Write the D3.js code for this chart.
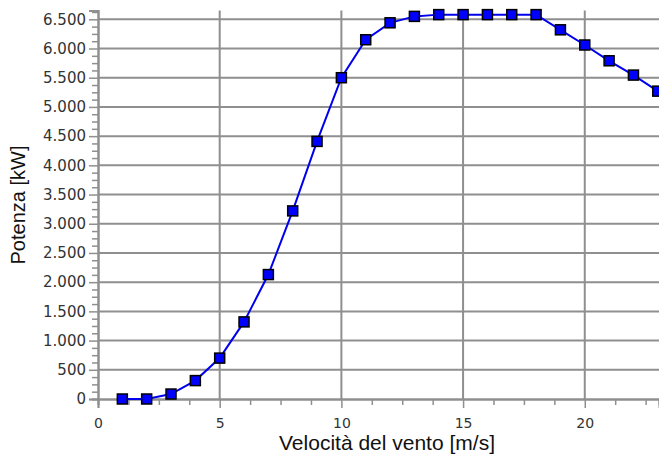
<!DOCTYPE html>
<html><head><meta charset="utf-8">
<script src="https://cdn.jsdelivr.net/npm/d3@7"></script>
<style>
body{margin:0;background:#fff;}
svg{display:block;}
</style></head>
<body>
<svg id="chart" width="659" height="454"></svg>
<script>
const windSpeeds = [1,2,3,4,5,6,7,8,9,10,11,12,13,14,15,16,17,18,19,20,21,22,23];
const powerKW = [0,0,85,315,700,1320,2130,3220,4410,5500,6150,6440,6550,6580,6580,6580,6580,6580,6320,6060,5790,5545,5270];
const xTicks = [0,5,10,15,20];
const yTicks = [0,500,1000,1500,2000,2500,3000,3500,4000,4500,5000,5500,6000,6500];
const xTitle = "Velocità del vento [m/s]";
const yTitle = "Potenza [kW]";

const svg = d3.select("#chart");
const W = 659, H = 454;
const left = 98, bottom = 399;
const x = d3.scaleLinear().domain([0, 23.05]).range([left, W]);
const y = d3.scaleLinear().domain([0, 6650]).range([bottom, bottom - 6650 * (379.7/6500)]);

const it = d3.formatLocale({decimal: ",", thousands: ".", grouping: [3], currency: ["€",""]});
const fmt = it.format(",");

const gridColor = "#8f8f8f";
svg.append("rect").attr("width", W).attr("height", H).attr("fill", "#fff");

// grid
svg.append("g").selectAll("line").data(yTicks.filter(d => d > 0)).join("line")
  .attr("x1", left).attr("x2", W).attr("y1", d => y(d)).attr("y2", d => y(d))
  .attr("stroke", gridColor).attr("stroke-width", 2);
svg.append("g").selectAll("line").data(xTicks.filter(d => d > 0)).join("line")
  .attr("y1", y(6650)).attr("y2", bottom).attr("x1", d => x(d)).attr("x2", d => x(d))
  .attr("stroke", gridColor).attr("stroke-width", 2);

// minor ticks
const yMinor = d3.range(0, 6650, 125).filter(d => d % 500 !== 0);
const xMinor = d3.range(0, 23.05, 1.25).filter(d => d % 5 !== 0);

const yAxisMinor = svg.append("g").attr("transform", `translate(${left},0)`)
  .call(d3.axisLeft(y).tickValues(yMinor).tickSize(6).tickFormat(""));
const xAxisMinor = svg.append("g").attr("transform", `translate(0,${bottom})`)
  .call(d3.axisBottom(x).tickValues(xMinor).tickSize(6).tickFormat(""));

const yAxis = svg.append("g").attr("transform", `translate(${left},0)`)
  .call(d3.axisLeft(y).tickValues(yTicks).tickSize(9).tickPadding(3).tickFormat(fmt));
const xAxis = svg.append("g").attr("transform", `translate(0,${bottom})`)
  .call(d3.axisBottom(x).tickValues(xTicks).tickSize(9).tickPadding(10).tickFormat(d3.format("d")));

[yAxisMinor, xAxisMinor, yAxis, xAxis].forEach(g => {
  g.selectAll(".domain").attr("stroke", gridColor).attr("stroke-width", 2);
  g.selectAll(".tick line").attr("stroke", gridColor).attr("stroke-width", 1.5);
});
yAxis.selectAll(".tick text").attr("font-family", "DejaVu Sans").attr("font-size", 15).attr("fill", "#333");
xAxis.selectAll(".tick text").attr("font-family", "DejaVu Sans").attr("font-size", 14).attr("fill", "#333");

// line
const line = d3.line().x((d, i) => x(windSpeeds[i])).y(d => y(d));
svg.append("path").datum(powerKW).attr("d", line)
  .attr("fill", "none").attr("stroke", "#0000ee").attr("stroke-width", 2);

// markers
const s = 10;
svg.append("g").selectAll("rect").data(powerKW).join("rect")
  .attr("x", (d, i) => x(windSpeeds[i]) - s/2).attr("y", d => y(d) - s/2)
  .attr("width", s).attr("height", s)
  .attr("fill", "#0000ff").attr("stroke", "#000").attr("stroke-width", 1.5);

// titles
svg.append("text").attr("x", 387).attr("y", 450).attr("text-anchor", "middle")
  .attr("font-family", "Liberation Sans, Arial, sans-serif").attr("font-size", 21).attr("fill", "#111")
  .text(xTitle);
svg.append("text").attr("transform", "translate(25,205) rotate(-90)").attr("text-anchor", "middle")
  .attr("font-family", "Liberation Sans, Arial, sans-serif").attr("font-size", 20).attr("fill", "#111")
  .text(yTitle);
</script>
</body></html>
